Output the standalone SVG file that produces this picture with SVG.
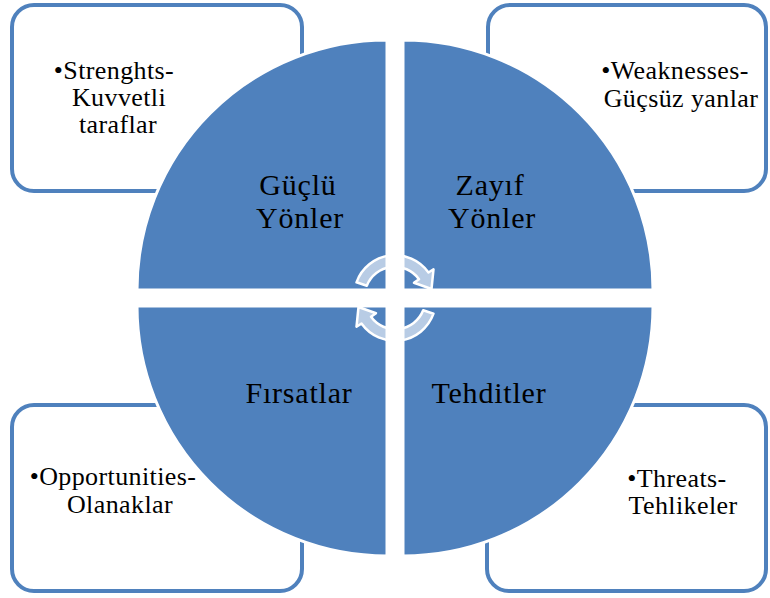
<svg xmlns="http://www.w3.org/2000/svg" width="770" height="598" viewBox="0 0 770 598">
  <style>
    .box { fill: #ffffff; stroke: #4f81bd; stroke-width: 4; }
    .quad { fill: #4f81bd; stroke: #ffffff; stroke-width: 3; }
    .bt { font-family: "Liberation Serif", serif; font-size: 26px; fill: #000000; text-anchor: middle; letter-spacing: 0.4px; }
    .qt { font-family: "Liberation Serif", serif; font-size: 30px; fill: #000000; text-anchor: middle; letter-spacing: 0.8px; }
    .arr { fill: #ffffff; fill-opacity: 0.6; stroke: #ffffff; stroke-width: 2.5; stroke-linejoin: round; }
  </style>
  <rect x="0" y="0" width="770" height="598" fill="#ffffff"/>

  <g id="box-strengths">
    <rect class="box" x="12" y="5" width="290" height="186" rx="22"/>
    <text class="bt" x="114" y="79">•Strenghts-</text>
    <text class="bt" x="119" y="106">Kuvvetli</text>
    <text class="bt" x="118" y="133">taraflar</text>
  </g>
  <g id="box-weaknesses">
    <rect class="box" x="488" y="5" width="278" height="186" rx="22"/>
    <text class="bt" x="675" y="79">•Weaknesses-</text>
    <text class="bt" x="681" y="107">Güçsüz yanlar</text>
  </g>
  <g id="box-opportunities">
    <rect class="box" x="12" y="405" width="290" height="186" rx="22"/>
    <text class="bt" x="113" y="485">•Opportunities-</text>
    <text class="bt" x="120" y="513">Olanaklar</text>
  </g>
  <g id="box-threats">
    <rect class="box" x="487" y="405" width="279" height="186" rx="22"/>
    <text class="bt" x="677" y="487">•Threats-</text>
    <text class="bt" x="683" y="514">Tehlikeler</text>
  </g>

  <g id="quad-strengths">
    <path class="quad" d="M387,290 L137,290 A250,250 0 0 1 387,40 Z"/>
    <text class="qt" x="298" y="195">Güçlü</text>
    <text class="qt" x="300" y="228">Yönler</text>
  </g>
  <g id="quad-weaknesses">
    <path class="quad" d="M403,290 L403,40 A250,250 0 0 1 653,290 Z"/>
    <text class="qt" x="490" y="195">Zayıf</text>
    <text class="qt" x="492" y="228">Yönler</text>
  </g>
  <g id="quad-opportunities">
    <path class="quad" d="M387,306 L387,556 A250,250 0 0 1 137,306 Z"/>
    <text class="qt" x="299" y="403">Fırsatlar</text>
  </g>
  <g id="quad-threats">
    <path class="quad" d="M403,306 L653,306 A250,250 0 0 1 403,556 Z"/>
    <text class="qt" x="489" y="403">Tehditler</text>
  </g>

  <g id="connectors">
    <path class="arr" d="M356.5,282.3 A41,41 0 0 1 428.5,272.5 L433.5,269.3 L431.5,289 L414,282.8 L419,279.2 A30,30 0 0 0 366.8,285.7 Z"/>
    <path class="arr" transform="rotate(180 395 298)" d="M356.5,282.3 A41,41 0 0 1 428.5,272.5 L433.5,269.3 L431.5,289 L414,282.8 L419,279.2 A30,30 0 0 0 366.8,285.7 Z"/>
  </g>
</svg>
